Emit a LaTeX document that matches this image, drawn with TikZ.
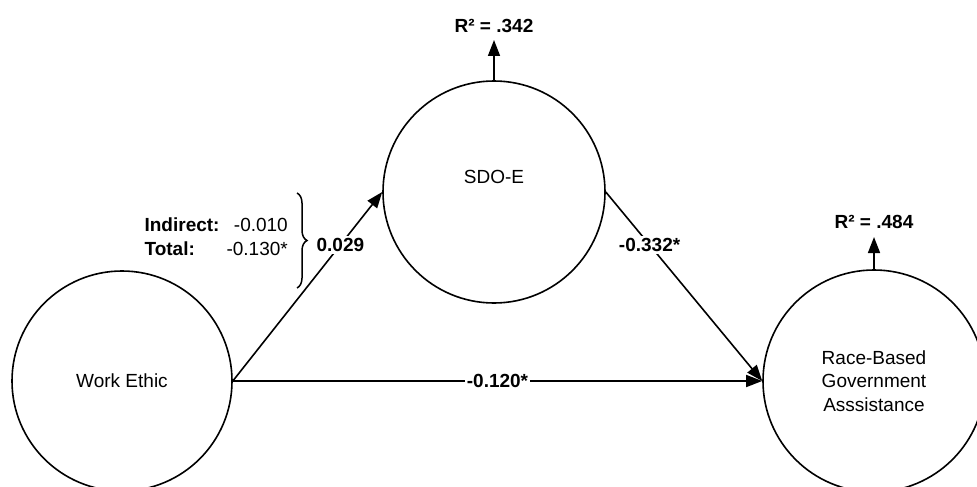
\documentclass[tikz,border=0pt]{standalone}
\usepackage{fontspec}
\setmainfont{Liberation Sans}
\usetikzlibrary{arrows.meta,decorations.pathreplacing}
\newcommand{\diagfont}{\fontsize{19}{23.5}\selectfont}
\tikzset{
  latent/.style={circle, draw, line width=1.6pt, inner sep=0pt, align=center},
  path arrow/.style={line width=1.6pt, -{Triangle[length=16pt,width=12pt]}},
  coef/.style={fill=white, inner sep=2pt, font=\diagfont\bfseries},
  rsq/.style={font=\diagfont\bfseries, inner sep=0pt}
}
\begin{document}
\begin{tikzpicture}[x=1pt,y=-1pt,font=\diagfont]
\useasboundingbox (0,0) rectangle (977,487);
\node[latent, minimum size=220pt] (we) at (122,381) {Work Ethic};
\node[latent, minimum size=222pt] (sdo) at (494,192) {};
\node (sdot) at (494,177) {SDO-E};
\node[latent, minimum size=222pt] (race) at (874,381) {Race-Based\\Government\\Asssistance};
% R squared
\coordinate (sdotip) at (494,40);
\coordinate (racetip) at (874,237);
\draw[path arrow] (sdo.north) -- (sdotip);
\node[rsq] (r1) at (494,26) {R² = .342};
\draw[path arrow] (race.north) -- (racetip);
\node[rsq] (r2) at (874,222) {R² = .484};
% paths
\draw[path arrow] (we.east) -- node[coef, pos=0.72] {0.029} (sdo.west);
\draw[path arrow] (sdo.east) -- node[coef, pos=0.28] {-0.332*} (race.west);
\draw[path arrow] (we.east) -- node[coef, pos=0.5] {-0.120*} (race.west);
% brace and effects
\coordinate (bt) at (297,193);
\coordinate (bb) at (297,288);
\draw[line width=1.5pt, decorate, decoration={brace, amplitude=10pt}] (bt) -- (bb);
\node[anchor=east, inner sep=0pt] (eff) at (288,239) {%
  \begin{tabular}{@{}l@{\hspace{7pt}}r@{}}
  \textbf{Indirect:} & -0.010\\
  \textbf{Total:} & -0.130*
  \end{tabular}};
\end{tikzpicture}
\end{document}
